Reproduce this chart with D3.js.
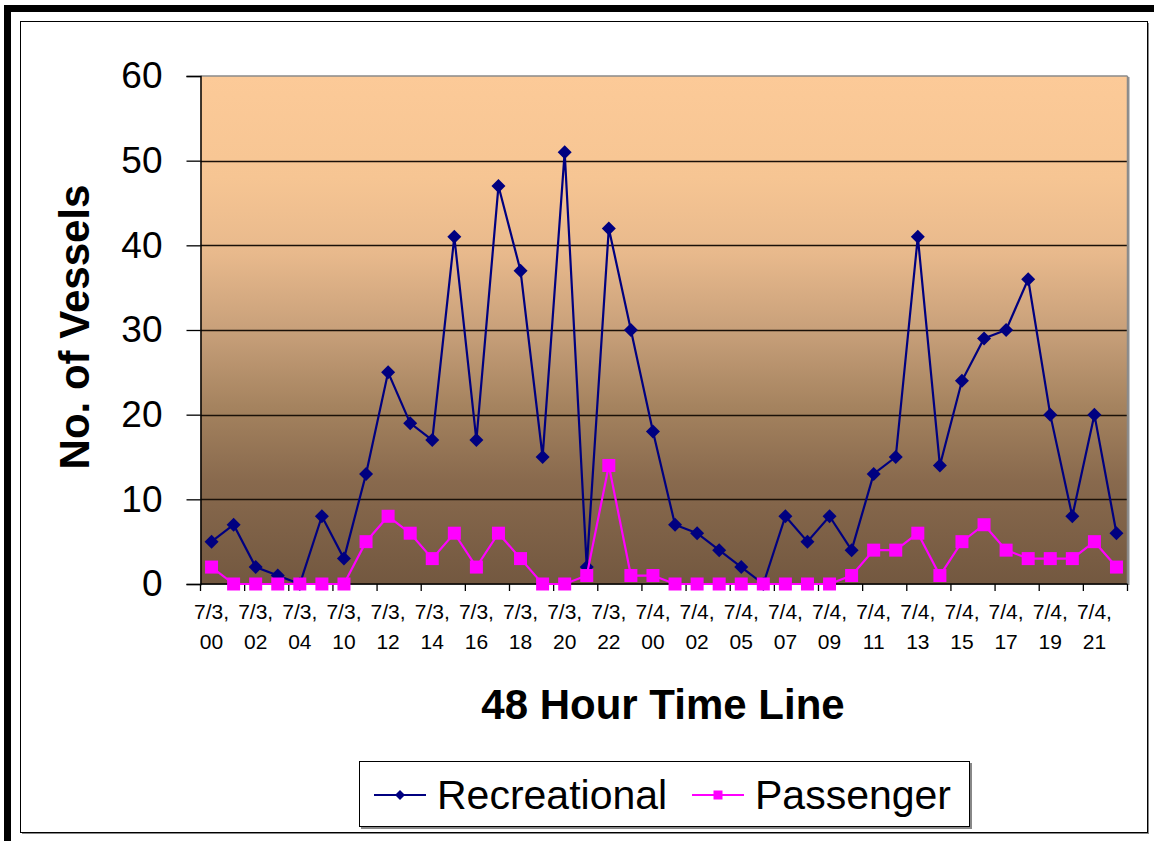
<!DOCTYPE html>
<html>
<head>
<meta charset="utf-8">
<script src="https://cdn.jsdelivr.net/npm/d3@7"></script>
<style>
  html, body { margin: 0; padding: 0; background: #fff; }
  svg { display: block; font-family: "Liberation Sans", Arial, sans-serif; }
</style>
</head>
<body>
<svg id="chart" width="1154" height="841"></svg>
<script>
// Hourly time slots over the 48-hour observation window
const timeSlots = [
  "7/3, 00", "7/3, 01", "7/3, 02", "7/3, 03", "7/3, 04", "7/3, 09", "7/3, 10", "7/3, 11",
  "7/3, 12", "7/3, 13", "7/3, 14", "7/3, 15", "7/3, 16", "7/3, 17", "7/3, 18", "7/3, 19",
  "7/3, 20", "7/3, 21", "7/3, 22", "7/3, 23",
  "7/4, 00", "7/4, 01", "7/4, 02", "7/4, 04", "7/4, 05", "7/4, 06", "7/4, 07", "7/4, 08",
  "7/4, 09", "7/4, 10", "7/4, 11", "7/4, 12", "7/4, 13", "7/4, 14", "7/4, 15", "7/4, 16",
  "7/4, 17", "7/4, 18", "7/4, 19", "7/4, 20", "7/4, 21", "7/4, 22"
];

// Vessel counts per slot
const recreational = [
  5, 7, 2, 1, 0, 8, 3, 13, 25, 19, 17, 41, 17, 47, 37, 15, 51, 2, 42, 30,
  18, 7, 6, 4, 2, 0, 8, 5, 8, 4, 13, 15, 41, 14, 24, 29, 30, 36, 20, 8, 20, 6
];
const passenger = [
  2, 0, 0, 0, 0, 0, 0, 5, 8, 6, 3, 6, 2, 6, 3, 0, 0, 1, 14, 1,
  1, 0, 0, 0, 0, 0, 0, 0, 0, 1, 4, 4, 6, 1, 5, 7, 4, 3, 3, 3, 5, 2
];

const yTicks = [0, 10, 20, 30, 40, 50, 60];
const seriesNames = ["Recreational", "Passenger"];
const seriesColors = ["#000080", "#FF00FF"];

const svg = d3.select("#chart");

// Outer frame: heavy black bars on top and left
svg.append("rect").attr("x", 4).attr("y", 5).attr("width", 1150).attr("height", 7).attr("fill", "#000");
svg.append("rect").attr("x", 4).attr("y", 5).attr("width", 7).attr("height", 836).attr("fill", "#000");

// Chart area with a soft shadow
svg.append("rect").attr("x", 22).attr("y", 23).attr("width", 1127).attr("height", 811).attr("fill", "#888");
svg.append("rect").attr("x", 20.5).attr("y", 21.5).attr("width", 1127).attr("height", 811)
  .attr("fill", "#fff").attr("stroke", "#000").attr("stroke-width", 1);

const plot = { left: 200.5, right: 1127.5, top: 76, bottom: 584 };

const x = d3.scaleBand().domain(timeSlots).range([plot.left, plot.right]).padding(0);
const y = d3.scaleLinear().domain([0, 60]).range([plot.bottom, plot.top]);
const cx = d => x(d) + x.bandwidth() / 2;

// Plot background gradient
const defs = svg.append("defs");
const grad = defs.append("linearGradient").attr("id", "bg").attr("x1", 0).attr("y1", 0).attr("x2", 0).attr("y2", 1);
[[0, "#FCCA98"], [0.2, "#F6C593"], [0.35, "#E8B98C"], [0.5, "#C8A07A"], [0.65, "#A5835F"],
 [0.8, "#88694D"], [1, "#735840"]].forEach(([o, c]) =>
  grad.append("stop").attr("offset", o).attr("stop-color", c));

svg.append("rect")
  .attr("x", plot.left + 1).attr("y", plot.top + 1)
  .attr("width", plot.right - plot.left + 1).attr("height", plot.bottom - plot.top)
  .attr("fill", "#909090");
svg.append("rect")
  .attr("x", plot.left).attr("y", plot.top)
  .attr("width", plot.right - plot.left).attr("height", plot.bottom - plot.top)
  .attr("fill", "url(#bg)");

// Horizontal gridlines
svg.append("g").selectAll("line")
  .data(yTicks.filter(t => t > 0 && t < 60))
  .join("line")
  .attr("x1", plot.left).attr("x2", plot.right)
  .attr("y1", d => Math.round(y(d)) + 0.5).attr("y2", d => Math.round(y(d)) + 0.5)
  .attr("stroke", "#1a1008").attr("stroke-width", 1.4);

// Top and right borders of the plot area
svg.append("line").attr("x1", plot.left).attr("x2", plot.right)
  .attr("y1", plot.top).attr("y2", plot.top).attr("stroke", "#8a8a8a").attr("stroke-width", 1.5);
svg.append("line").attr("x1", plot.right).attr("x2", plot.right)
  .attr("y1", plot.top).attr("y2", plot.bottom).attr("stroke", "#8a8a8a").attr("stroke-width", 1.5);

// Y axis
const yAxis = d3.axisLeft(y).tickValues(yTicks).tickSize(14).tickPadding(24);
const gy = svg.append("g").attr("transform", `translate(${plot.left},0)`).call(yAxis);
gy.select(".domain").attr("stroke", "#000").attr("stroke-width", 1.5);
gy.selectAll(".tick line").attr("stroke", "#000").attr("stroke-width", 1.3);
gy.selectAll(".tick text")
  .attr("font-size", 37).attr("fill", "#000")
  .attr("font-family", "'Liberation Sans', Arial, sans-serif");

// X axis: tick marks every two slots, on slot boundaries
const boundaries = d3.range(0, timeSlots.length + 1, 2).map(i =>
  i < timeSlots.length ? x(timeSlots[i]) : plot.right);
const gx = svg.append("g");
gx.append("line").attr("x1", plot.left).attr("x2", plot.right)
  .attr("y1", plot.bottom).attr("y2", plot.bottom).attr("stroke", "#000").attr("stroke-width", 1.5);
gx.selectAll("line.tk").data(boundaries).join("line").attr("class", "tk")
  .attr("x1", d => d).attr("x2", d => d)
  .attr("y1", plot.bottom).attr("y2", plot.bottom + 7)
  .attr("stroke", "#000").attr("stroke-width", 1.3);

// Two-line category labels on every other slot
const labelled = timeSlots.filter((d, i) => i % 2 === 0);
const lbl = gx.selectAll("text.lbl").data(labelled).join("text").attr("class", "lbl")
  .attr("text-anchor", "middle").attr("font-size", 21).attr("fill", "#000");
lbl.append("tspan").attr("x", d => cx(d)).attr("y", 619).text(d => d.split(" ")[0]);
lbl.append("tspan").attr("x", d => cx(d)).attr("y", 649).text(d => d.split(" ")[1]);

// Axis titles
svg.append("text")
  .attr("transform", "translate(89,327) rotate(-90)")
  .attr("text-anchor", "middle").attr("font-size", 42).attr("font-weight", "bold")
  .text("No. of Vessels");
svg.append("text")
  .attr("x", 663).attr("y", 719)
  .attr("text-anchor", "middle").attr("font-size", 42).attr("font-weight", "bold")
  .text("48 Hour Time Line");

// Series lines and markers
const line = d3.line().x((d, i) => cx(timeSlots[i])).y(d => y(d));
const diamond = s => `M0,${-s}L${s},0L0,${s}L${-s},0Z`;
const square = s => `M${-s},${-s}H${s}V${s}H${-s}Z`;

const series = [
  { values: recreational, color: seriesColors[0], shape: diamond, size: 7 },
  { values: passenger, color: seriesColors[1], shape: square, size: 6.5 }
];

series.forEach(s => {
  svg.append("path").datum(s.values)
    .attr("d", line).attr("fill", "none")
    .attr("stroke", s.color).attr("stroke-width", 2.2);
  svg.append("g").selectAll("path")
    .data(s.values)
    .join("path")
    .attr("transform", (d, i) => `translate(${cx(timeSlots[i])},${y(d)})`)
    .attr("d", s.shape(s.size))
    .attr("fill", s.color);
});

// Legend
const lg = svg.append("g");
lg.append("rect").attr("x", 361).attr("y", 763).attr("width", 611).attr("height", 66).attr("fill", "#888");
lg.append("rect").attr("x", 359.5).attr("y", 761.5).attr("width", 610).attr("height", 65)
  .attr("fill", "#fff").attr("stroke", "#000").attr("stroke-width", 1);

const legendItems = [
  { name: seriesNames[0], color: seriesColors[0], shape: diamond, size: 5, x0: 374 },
  { name: seriesNames[1], color: seriesColors[1], shape: square, size: 4.5, x0: 692 }
];
legendItems.forEach(it => {
  lg.append("line").attr("x1", it.x0).attr("x2", it.x0 + 52)
    .attr("y1", 795).attr("y2", 795).attr("stroke", it.color).attr("stroke-width", 2);
  lg.append("path").attr("transform", `translate(${it.x0 + 26},795)`)
    .attr("d", it.shape(it.size)).attr("fill", it.color);
  lg.append("text").attr("x", it.x0 + 63).attr("y", 809)
    .attr("font-size", 41).attr("fill", "#000").text(it.name);
});
</script>
</body>
</html>
